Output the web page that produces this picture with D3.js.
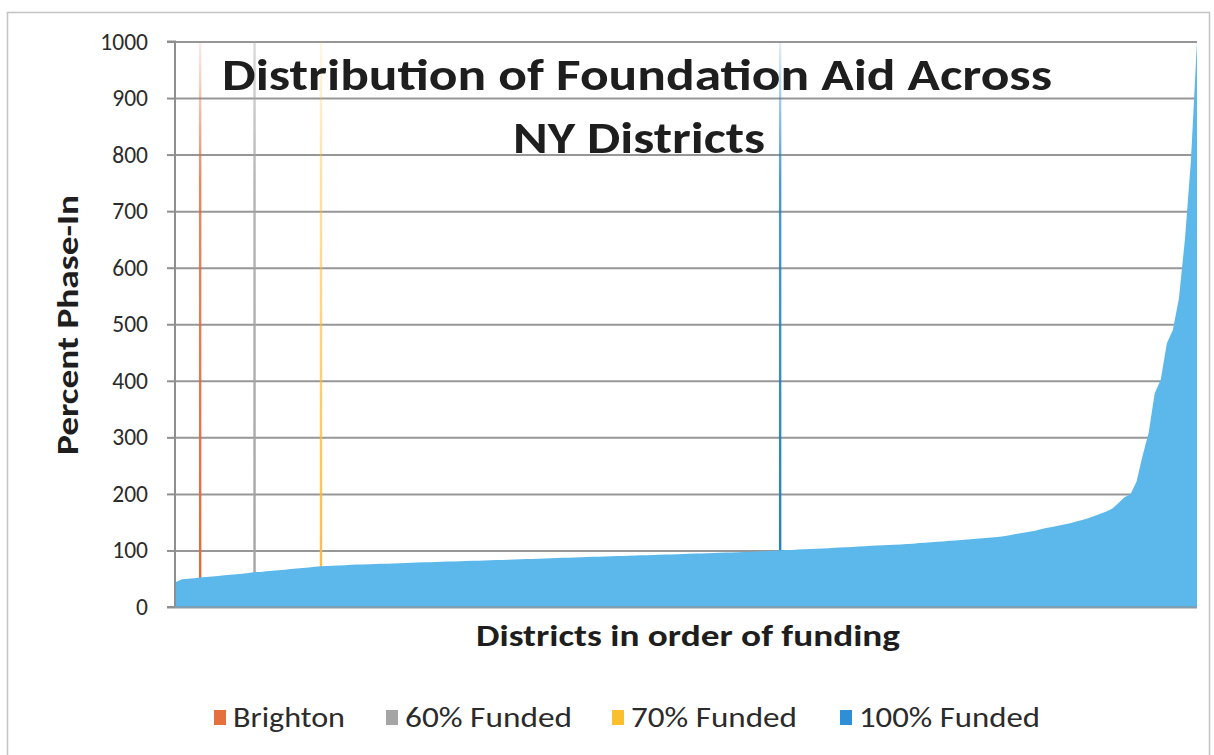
<!DOCTYPE html>
<html><head><meta charset="utf-8">
<script src="https://cdn.jsdelivr.net/npm/d3@7"></script>
<style>html,body{margin:0;padding:0;background:#fff;}svg{display:block;}</style>
</head><body>
<svg id="chart" width="1214" height="755"></svg>
<script>
// ---- data ----
const titleLines = ["Distribution of Foundation Aid Across", "NY Districts"];
const xAxisTitle = "Districts in order of funding";
const yAxisTitle = "Percent Phase-In";
const yTicks = [0, 100, 200, 300, 400, 500, 600, 700, 800, 900, 1000];
// Percent phase-in for districts, sorted ascending
const districtValues = [
  44, 49, 50, 51, 52, 53, 54, 55, 56, 57,
  58, 59, 60, 62, 62, 63, 64, 65, 66, 67,
  68, 69, 70, 71, 72, 72.5, 73, 73.5, 74, 74.5,
  75, 75.3, 75.7, 76, 76.3, 76.7, 77, 77.5, 78, 78.3,
  78.6, 79, 79.3, 79.6, 80, 80.3, 80.6, 81, 81.3, 81.6,
  82, 82.3, 82.6, 83, 83.2, 83.6, 84, 84.3, 84.7, 85,
  85.4, 85.8, 86.1, 86.5, 86.9, 87.2, 87.6, 88, 88.3, 88.7,
  89, 89.3, 89.7, 90, 90.4, 90.7, 91, 91.4, 91.7, 92,
  92.4, 92.7, 93, 93.4, 93.7, 94, 94.4, 94.8, 95.2, 95.5,
  95.8, 96.2, 96.5, 96.9, 97.3, 97.6, 98, 98.5, 99, 99.6,
  100.2, 100.6, 101, 101.5, 102, 102.5, 103, 103.5, 104, 104.6,
  105.2, 105.7, 106.2, 106.9, 107.5, 108.1, 108.6, 109.1, 109.5, 110,
  110.5, 111.3, 112, 113, 113.7, 114.5, 115.3, 116, 117, 117.8,
  118.6, 119.5, 120.3, 121.2, 122, 123, 124, 125, 127, 129,
  131, 132.5, 134.5, 137, 139.5, 141.5, 143.5, 146, 148, 151,
  154, 157, 161, 165, 169, 174, 184, 194, 200, 222,
  268, 308, 378, 402, 466, 490, 545, 650, 790, 1000
];
const markerNames = ["Brighton", "60% Funded", "70% Funded", "100% Funded"];
const markerIndex = [4, 13, 24, 100];
const markerValues = [1000, 1000, 1000, 1000];
const markerColors = ["#E2683A", "#A3A3A3", "#F7BC3C", "#1F7EC2"];
const legendColors = ["#E4703E", "#A5A5A5", "#FBBF2E", "#2F8FD6"];

(function () {
// ---- layout ----
const svg = d3.select("#chart");
const pL = 175, pR = 1197, pT = 41.5, pB = 607;
const font = "Carlito, Lato, 'Open Sans', sans-serif";

svg.append("rect").attr("x", 7.5).attr("y", 12.5).attr("width", 1202).attr("height", 760)
  .attr("fill", "#fff").attr("stroke", "#c4c4c4").attr("stroke-width", 1.5);

const x = d3.scaleLinear().domain([0, districtValues.length - 1]).range([pL + 1, pR]);
const y = d3.scaleLinear().domain([0, 1000]).range([pB, pT]);

// gridlines
const yGrid = d3.axisLeft(y).tickValues(yTicks).tickSize(-(pR - pL)).tickFormat("");
svg.append("g").attr("transform", `translate(${pL},0)`).call(yGrid)
  .call(g => g.select(".domain").remove())
  .call(g => g.selectAll("line").attr("stroke", "#979797").attr("stroke-width", 2));

// marker gradients
const defs = svg.append("defs");
markerColors.forEach((c, i) => {
  const gr = defs.append("linearGradient").attr("id", "mg" + i)
    .attr("x1", 0).attr("y1", 0).attr("x2", 0).attr("y2", 1);
  gr.append("stop").attr("offset", "0").attr("stop-color", c).attr("stop-opacity", i === 1 ? 0.4 : 0.12);
  gr.append("stop").attr("offset", "0.25").attr("stop-color", c).attr("stop-opacity", i === 2 ? 0.45 : 0.8);
  gr.append("stop").attr("offset", "1").attr("stop-color", c).attr("stop-opacity", 1);
});

// marker columns
svg.append("g").selectAll("rect").data(markerIndex).join("rect")
  .attr("x", d => x(d) - 1.2)
  .attr("width", 2.4)
  .attr("y", (d, i) => y(markerValues[i]))
  .attr("height", (d, i) => y(0) - y(markerValues[i]))
  .attr("fill", (d, i) => `url(#mg${i})`);

// area
const area = d3.area().x((d, i) => x(i)).y0(y(0)).y1(d => y(d)).curve(d3.curveLinear);
svg.append("path").datum(districtValues).attr("d", area).attr("fill", "#5CB8EA");

// y axis line and ticks
const yAx = d3.axisLeft(y).tickValues(yTicks).tickSize(8).tickPadding(19).tickFormat(d3.format("d"));
svg.append("g").attr("transform", `translate(${pL},0)`).call(yAx)
  .call(g => g.select(".domain").attr("stroke", "#8f8f8f").attr("stroke-width", 2).attr("d", `M-8,${pT}H0V${pB}H-8`))
  .call(g => g.selectAll("line").attr("stroke", "#8f8f8f").attr("stroke-width", 2))
  .call(g => g.selectAll("text").attr("font-family", font).attr("font-size", 23.5).attr("fill", "#2b2b2b"));

// x axis line
svg.append("line").attr("x1", pL).attr("x2", pR).attr("y1", pB).attr("y2", pB)
  .attr("stroke", "#7f9fb5").attr("stroke-width", 2);

// titles
const titleY = [90, 153];
const titleX = [[222, 1052], [513, 765]];
titleLines.forEach((t, i) => {
  svg.append("text").attr("x", titleX[i][0]).attr("y", titleY[i])
    .attr("font-family", font).attr("font-weight", "bold").attr("font-size", 45)
    .attr("fill", "#1e1e1e").attr("textLength", titleX[i][1] - titleX[i][0])
    .attr("lengthAdjust", "spacingAndGlyphs").text(t);
});

svg.append("text").attr("x", 476).attr("y", 646).attr("font-family", font)
  .attr("font-weight", "bold").attr("font-size", 30).attr("fill", "#1e1e1e")
  .attr("textLength", 424).attr("lengthAdjust", "spacingAndGlyphs").text(xAxisTitle);

svg.append("text").attr("transform", "translate(78,455) rotate(-90)")
  .attr("font-family", font).attr("font-weight", "bold").attr("font-size", 30).attr("fill", "#1e1e1e")
  .attr("textLength", 260).attr("lengthAdjust", "spacingAndGlyphs").text(yAxisTitle);

// legend
const legX = [214, 386, 612, 840];
const legTextEnd = [345, 572, 797, 1040];
const legend = svg.append("g");
markerNames.forEach((n, i) => {
  legend.append("rect").attr("x", legX[i]).attr("y", 710).attr("width", 12).attr("height", 15)
    .attr("fill", legendColors[i]);
  legend.append("text").attr("x", legX[i] + 19).attr("y", 727)
    .attr("font-family", font).attr("font-size", 28).attr("fill", "#2b2b2b")
    .attr("textLength", legTextEnd[i] - legX[i] - 19).attr("lengthAdjust", "spacingAndGlyphs").text(n);
});
})();
</script>
</body></html>
